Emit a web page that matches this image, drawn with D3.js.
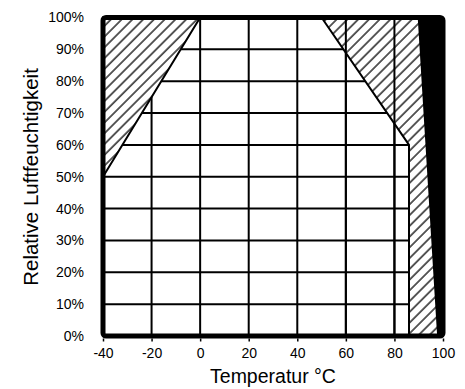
<!DOCTYPE html>
<html><head><meta charset="utf-8">
<script src="https://cdn.jsdelivr.net/npm/d3@7"></script>
<style>body{margin:0;background:#fff}svg{display:block}text{font-family:"Liberation Sans",Arial,sans-serif;fill:#000}</style>
</head><body><svg id="c" width="465" height="389"></svg>
<script>
const xTicks = [-40,-20,0,20,40,60,80,100];
const yTicks = [0,10,20,30,40,50,60,70,80,90,100];
const xGrid = [-20,0,20,40,60,80];
const yGrid = [10,20,30,40,50,60,70,80,90];
// boundary polygons [temperature °C, relative humidity %]
const coldZone = [[-40,50],[-40,100],[0,100]];
const hotZone = [[50,100],[86,60],[86,0],[98,0],[90,100]];
const blackZone = [[90,100],[100,100],[100,0],[98,0]];
const hotGridOver = [60,80];

const svg = d3.select("#c");
const x = d3.scaleLinear().domain([-40,100]).range([103,443]);
const y = d3.scaleLinear().domain([0,100]).range([336,17.5]);

const defs = svg.append("defs");
const pat = defs.append("pattern").attr("id","hatch").attr("patternUnits","userSpaceOnUse")
  .attr("width",7.6).attr("height",7.6).attr("patternTransform","rotate(45)");
pat.append("rect").attr("width",7.6).attr("height",7.6).attr("fill","#fff");
pat.append("line").attr("x1",1).attr("y1",0).attr("x2",1).attr("y2",7.6)
  .attr("stroke","#333").attr("stroke-width",1.6);

const g = svg.append("g");
// gridlines
g.selectAll(".hg").data(yGrid).join("line")
  .attr("x1",x(-40)).attr("x2",x(100)).attr("y1",d=>y(d)).attr("y2",d=>y(d))
  .attr("stroke","#000").attr("stroke-width",2);
g.selectAll(".vg").data(xGrid).join("line")
  .attr("x1",d=>x(d)).attr("x2",d=>x(d)).attr("y1",y(0)).attr("y2",y(100))
  .attr("stroke","#000").attr("stroke-width",2);

const line = d3.line().x(d=>x(d[0])).y(d=>y(d[1]));
g.append("path").attr("d",line(coldZone)+"Z").attr("fill","url(#hatch)")
  .attr("stroke","#000").attr("stroke-width",2);
g.append("path").attr("d",line(hotZone)+"Z").attr("fill","url(#hatch)")
  .attr("stroke","#000").attr("stroke-width",2);
g.selectAll(".vo").data(hotGridOver).join("line")
  .attr("x1",d=>x(d)).attr("x2",d=>x(d)).attr("y1",y(0)).attr("y2",y(100))
  .attr("stroke","#000").attr("stroke-width",2);
g.append("path").attr("d",line(blackZone)+"Z").attr("fill","#000");

// frame
g.append("rect").attr("x",x(-40)).attr("y",y(100))
  .attr("width",x(100)-x(-40)).attr("height",y(0)-y(100))
  .attr("rx",3).attr("fill","none").attr("stroke","#000").attr("stroke-width",5);

// axes
const xa = svg.append("g").attr("transform",`translate(0,${y(0)+2.5})`)
  .call(d3.axisBottom(x).tickValues(xTicks).tickSize(3).tickPadding(7).tickFormat(d=>d));
xa.select(".domain").remove();
xa.selectAll("text").attr("font-size",14).style("font-family","'Liberation Sans',Arial,sans-serif");
xa.selectAll("line").attr("stroke-width",1.5);

const ya = svg.append("g").attr("transform",`translate(84,0)`)
  .call(d3.axisLeft(y).tickValues(yTicks).tickSize(0).tickPadding(0).tickFormat(d=>d+"%"));
ya.select(".domain").remove();
ya.selectAll("text").attr("font-size",14).style("font-family","'Liberation Sans',Arial,sans-serif");

svg.append("text").attr("x",273).attr("y",383).attr("text-anchor","middle")
  .attr("font-size",19.5).text("Temperatur °C");
svg.append("text").attr("transform","translate(38,177) rotate(-90)").attr("text-anchor","middle")
  .attr("font-size",20.5).text("Relative Luftfeuchtigkeit");
</script></body></html>
